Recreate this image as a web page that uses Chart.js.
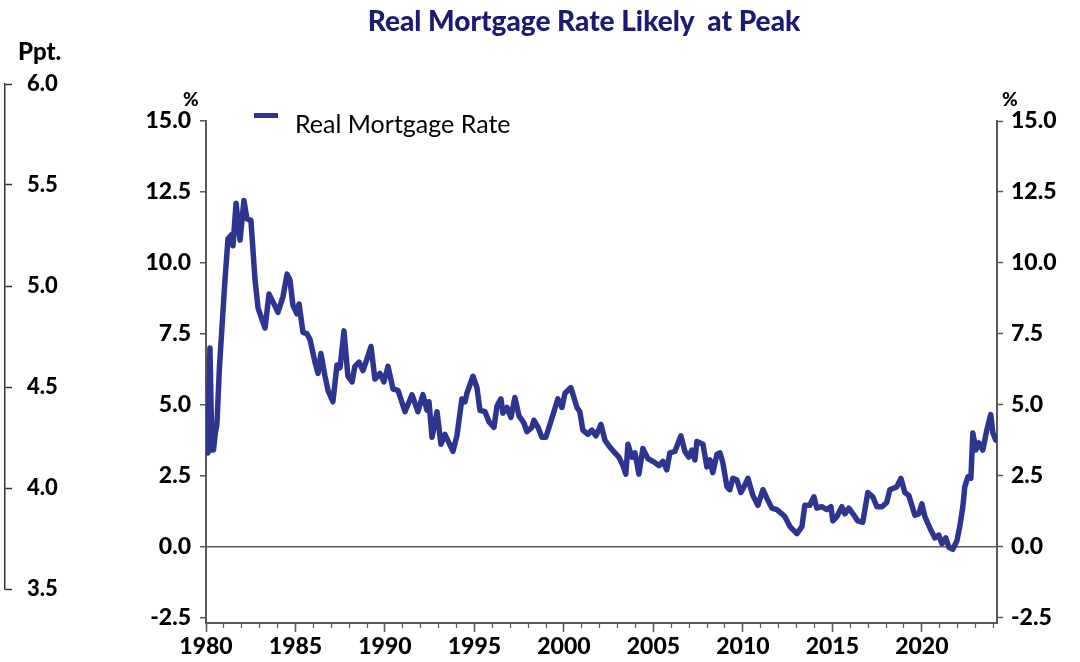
<!DOCTYPE html>
<html>
<head>
<meta charset="utf-8">
<script src="https://cdn.jsdelivr.net/npm/chart.js@4/dist/chart.umd.min.js"></script>
<style>
  body { margin: 0; background: #fff; font-family: Lato, sans-serif; }
  #wrap { position: relative; width: 1080px; height: 662px; overflow: hidden; }
  canvas { position: absolute; left: 0; top: 0; }
  .txt { position: absolute; white-space: nowrap; color: #000; line-height: 1; }
  #title { left: 584px; top: 6px; transform: translateX(-50%); font-size: 28px; font-weight: 900; color: #1b1b72; }
  #ppt { left: 18px; top: 39px; font-size: 24px; font-weight: 900; }
  #pctL { left: 183px; top: 89px; font-size: 19px; font-weight: 900; }
  #pctR { left: 1002px; top: 89px; font-size: 19px; font-weight: 900; }
  #legLine { position: absolute; left: 254px; top: 113px; width: 24px; height: 5px; background: #2e3590; }
  #legTxt { left: 295px; top: 111px; font-size: 25px; }
</style>
</head>
<body>
<div id="wrap">
  <canvas id="main" width="1080" height="662"></canvas>
  <canvas id="side" width="80" height="662"></canvas>
  <div class="txt" id="title">Real Mortgage Rate Likely&nbsp; at Peak</div>
  <div class="txt" id="ppt">Ppt.</div>
  <div class="txt" id="pctL">%</div>
  <div class="txt" id="pctR">%</div>
  <div id="legLine"></div>
  <div class="txt" id="legTxt">Real Mortgage Rate</div>
</div>
<script>
// real mortgage rate, %
const dates = [
  1980.00, 1980.11, 1980.22, 1980.33, 1980.42, 1980.52, 1980.61, 1980.75, 1980.89,
  1981.06, 1981.23, 1981.45, 1981.51, 1981.68, 1981.90, 1982.12, 1982.29, 1982.51,
  1982.74, 1982.91, 1983.13, 1983.30, 1983.52, 1983.80, 1984.02, 1984.30, 1984.53,
  1984.69, 1984.86, 1985.08, 1985.20, 1985.42, 1985.64, 1985.81, 1986.09, 1986.26,
  1986.42, 1986.65, 1986.82, 1987.09, 1987.32, 1987.49, 1987.71, 1987.93, 1988.16,
  1988.32, 1988.55, 1988.77, 1988.99, 1989.22, 1989.44, 1989.72, 1989.94, 1990.17,
  1990.45, 1990.73, 1991.12, 1991.51, 1991.84, 1992.12, 1992.35, 1992.46, 1992.63,
  1992.91, 1993.13, 1993.35, 1993.58, 1993.80, 1994.02, 1994.30, 1994.47, 1994.58,
  1994.92, 1995.14, 1995.31, 1995.59, 1995.81, 1996.09, 1996.26, 1996.48, 1996.59,
  1996.82, 1997.04, 1997.26, 1997.49, 1997.77, 1997.93, 1998.21, 1998.32, 1998.55,
  1998.77, 1998.99, 1999.22, 1999.44, 1999.66, 1999.89, 2000.06, 2000.39, 2000.56,
  2000.73, 2000.89, 2001.06, 2001.34, 2001.56, 2001.79, 2002.07, 2002.29, 2002.57,
  2002.85, 2003.07, 2003.30, 2003.46, 2003.58, 2003.80, 2003.97, 2004.19, 2004.41,
  2004.69, 2004.97, 2005.31, 2005.53, 2005.75, 2005.92, 2006.20, 2006.54, 2006.76,
  2006.98, 2007.15, 2007.32, 2007.43, 2007.77, 2007.99, 2008.16, 2008.32, 2008.55,
  2008.72, 2008.88, 2009.11, 2009.27, 2009.44, 2009.66, 2009.89, 2010.06, 2010.28,
  2010.56, 2010.84, 2011.12, 2011.34, 2011.62, 2011.90, 2012.18, 2012.35, 2012.63,
  2013.02, 2013.30, 2013.46, 2013.74, 2013.97, 2014.13, 2014.41, 2014.69, 2014.92,
  2015.03, 2015.25, 2015.53, 2015.70, 2015.92, 2016.15, 2016.42, 2016.70, 2016.98,
  2017.26, 2017.49, 2017.77, 2018.04, 2018.21, 2018.60, 2018.83, 2019.05, 2019.27,
  2019.61, 2019.83, 2020.00, 2020.17, 2020.45, 2020.73, 2020.95, 2021.12, 2021.34,
  2021.51, 2021.73, 2021.96, 2022.12, 2022.29, 2022.40, 2022.57, 2022.74, 2022.85,
  2023.02, 2023.18, 2023.41, 2023.52, 2023.63, 2023.85, 2023.97, 2024.13
];
const rates = [
  3.5, 3.3, 7.0, 3.4, 3.4, 4.0, 4.3, 6.3, 7.7,
  9.4, 10.85, 11.0, 10.6, 12.1, 10.8, 12.2, 11.55, 11.5,
  9.4, 8.4, 8.0, 7.7, 8.9, 8.55, 8.25, 8.8, 9.6,
  9.4, 8.5, 8.2, 8.55, 7.55, 7.5, 7.3, 6.5, 6.1,
  6.8, 6.0, 5.5, 5.1, 6.4, 6.3, 7.6, 6.0, 5.8,
  6.35, 6.5, 6.2, 6.6, 7.05, 5.9, 6.1, 5.8, 6.35,
  5.55, 5.5, 4.75, 5.35, 4.75, 5.35, 4.8, 5.1, 3.85,
  4.75, 3.6, 3.95, 3.65, 3.35, 3.9, 5.2, 5.1, 5.4,
  6.0, 5.6, 4.8, 4.75, 4.4, 4.2, 4.95, 5.2, 4.7,
  4.9, 4.55, 5.25, 4.6, 4.35, 4.05, 4.2, 4.45, 4.2,
  3.85, 3.85, 4.3, 4.75, 5.2, 4.9, 5.4, 5.6, 5.25,
  4.9, 4.75, 4.1, 3.95, 4.1, 3.9, 4.3, 3.75, 3.5,
  3.3, 3.15, 2.85, 2.55, 3.6, 3.15, 3.3, 2.55, 3.45,
  3.1, 3.0, 2.85, 3.0, 2.7, 3.3, 3.35, 3.9, 3.35,
  3.15, 3.4, 3.05, 3.7, 3.6, 2.8, 3.05, 2.6, 3.25,
  3.3, 2.95, 2.1, 2.0, 2.4, 2.35, 1.9, 2.1, 2.4,
  1.8, 1.45, 2.0, 1.7, 1.35, 1.3, 1.15, 1.05, 0.7,
  0.45, 0.7, 1.45, 1.45, 1.75, 1.35, 1.4, 1.3, 1.4,
  0.9, 1.05, 1.4, 1.15, 1.35, 1.15, 0.9, 0.85, 1.9,
  1.75, 1.4, 1.4, 1.55, 2.0, 2.1, 2.4, 1.9, 1.8,
  1.1, 1.15, 1.5, 1.05, 0.65, 0.3, 0.4, 0.1, 0.3,
  -0.03, -0.1, 0.2, 0.7, 1.4, 2.1, 2.45, 2.4, 4.0,
  3.4, 3.65, 3.4, 3.75, 4.1, 4.65, 4.0, 3.75
];

const yTicks = [-2.5, 0, 2.5, 5, 7.5, 10, 12.5, 15];
const xLabelYears = [1980, 1985, 1990, 1995, 2000, 2005, 2010, 2015, 2020];
const pptTicks = [3.5, 4.0, 4.5, 5.0, 5.5, 6.0];

const lineColor = '#2e3590';
const axisColor = '#595959';
const tickFont = { family: 'Lato', size: 23, weight: '900' };

const minorYears = [];
for (let y = 1980; y <= 2024; y++) minorYears.push(y);

const points = dates.map((d, i) => ({ x: d, y: rates[i] }));

new Chart(document.getElementById('main'), {
  type: 'line',
  data: {
    datasets: [{
      label: 'Real Mortgage Rate',
      data: points,
      borderColor: lineColor,
      backgroundColor: lineColor,
      borderWidth: 5.5,
      pointRadius: 0,
      tension: 0,
      borderJoinStyle: 'round',
      borderCapStyle: 'round'
    }]
  },
  options: {
    responsive: false,
    animation: false,
    events: [],
    layout: { padding: { top: 121, left: 0, right: 0, bottom: 0 } },
    plugins: { legend: { display: false }, tooltip: { enabled: false } },
    scales: {
      x: {
        type: 'linear', position: 'bottom', min: 1980, max: 2024.2, weight: 1,
        afterBuildTicks: s => { s.ticks = xLabelYears.map(v => ({ value: v })); },
        afterFit: s => { s.height = 39; },
        ticks: { font: tickFont, color: '#000', padding: 1, maxRotation: 0, autoSkip: false, callback: v => String(v) },
        grid: { drawOnChartArea: false, tickLength: 9, tickColor: axisColor, tickWidth: 1.5 },
        border: { color: axisColor, width: 2 }
      },
      xMinor: {
        type: 'linear', position: 'bottom', min: 1980, max: 2024.2, weight: 0,
        afterBuildTicks: s => { s.ticks = minorYears.map(v => ({ value: v })); },
        afterFit: s => { s.height = 0; },
        ticks: { display: false },
        grid: { drawOnChartArea: false, tickLength: 5, tickColor: axisColor, tickWidth: 1.2 },
        border: { display: false }
      },
      y: {
        position: 'left', min: -2.7, max: 15,
        afterBuildTicks: s => { s.ticks = yTicks.map(v => ({ value: v })); },
        afterFit: s => { s.width = 206; },
        ticks: { font: tickFont, color: '#000', padding: 9, callback: v => v.toFixed(1) },
        grid: {
          color: c => (c.tick && c.tick.value === 0) ? axisColor : 'rgba(0,0,0,0)',
          lineWidth: 1.5,
          tickLength: 6, tickColor: axisColor, tickWidth: 1.5
        },
        border: { color: axisColor, width: 2 }
      },
      y2: {
        position: 'right', min: -2.7, max: 15,
        afterBuildTicks: s => { s.ticks = yTicks.map(v => ({ value: v })); },
        afterFit: s => { s.width = 83; },
        ticks: { font: tickFont, color: '#000', padding: 8, callback: v => v.toFixed(1) },
        grid: { drawOnChartArea: false, tickLength: 6, tickColor: axisColor, tickWidth: 1.5 },
        border: { color: axisColor, width: 2 }
      }
    }
  }
});

// lonely "Ppt." axis on the far left
new Chart(document.getElementById('side'), {
  type: 'line',
  data: { datasets: [] },
  options: {
    responsive: false,
    animation: false,
    events: [],
    layout: { padding: { top: 84, bottom: 73, left: 0, right: 0 } },
    plugins: { legend: { display: false }, tooltip: { enabled: false } },
    scales: {
      x: { display: false },
      y: {
        position: 'right', min: 3.5, max: 6.0,
        afterBuildTicks: s => { s.ticks = pptTicks.map(v => ({ value: v })); },
        afterFit: s => { s.width = 75; },
        ticks: { font: { family: 'Lato', size: 22, weight: '900' }, color: '#000', padding: 15, callback: v => v.toFixed(1) },
        grid: { drawOnChartArea: false, tickLength: 7, tickColor: '#333', tickWidth: 1.5 },
        border: { color: '#333', width: 1.5 }
      }
    }
  }
});
</script>
</body>
</html>
